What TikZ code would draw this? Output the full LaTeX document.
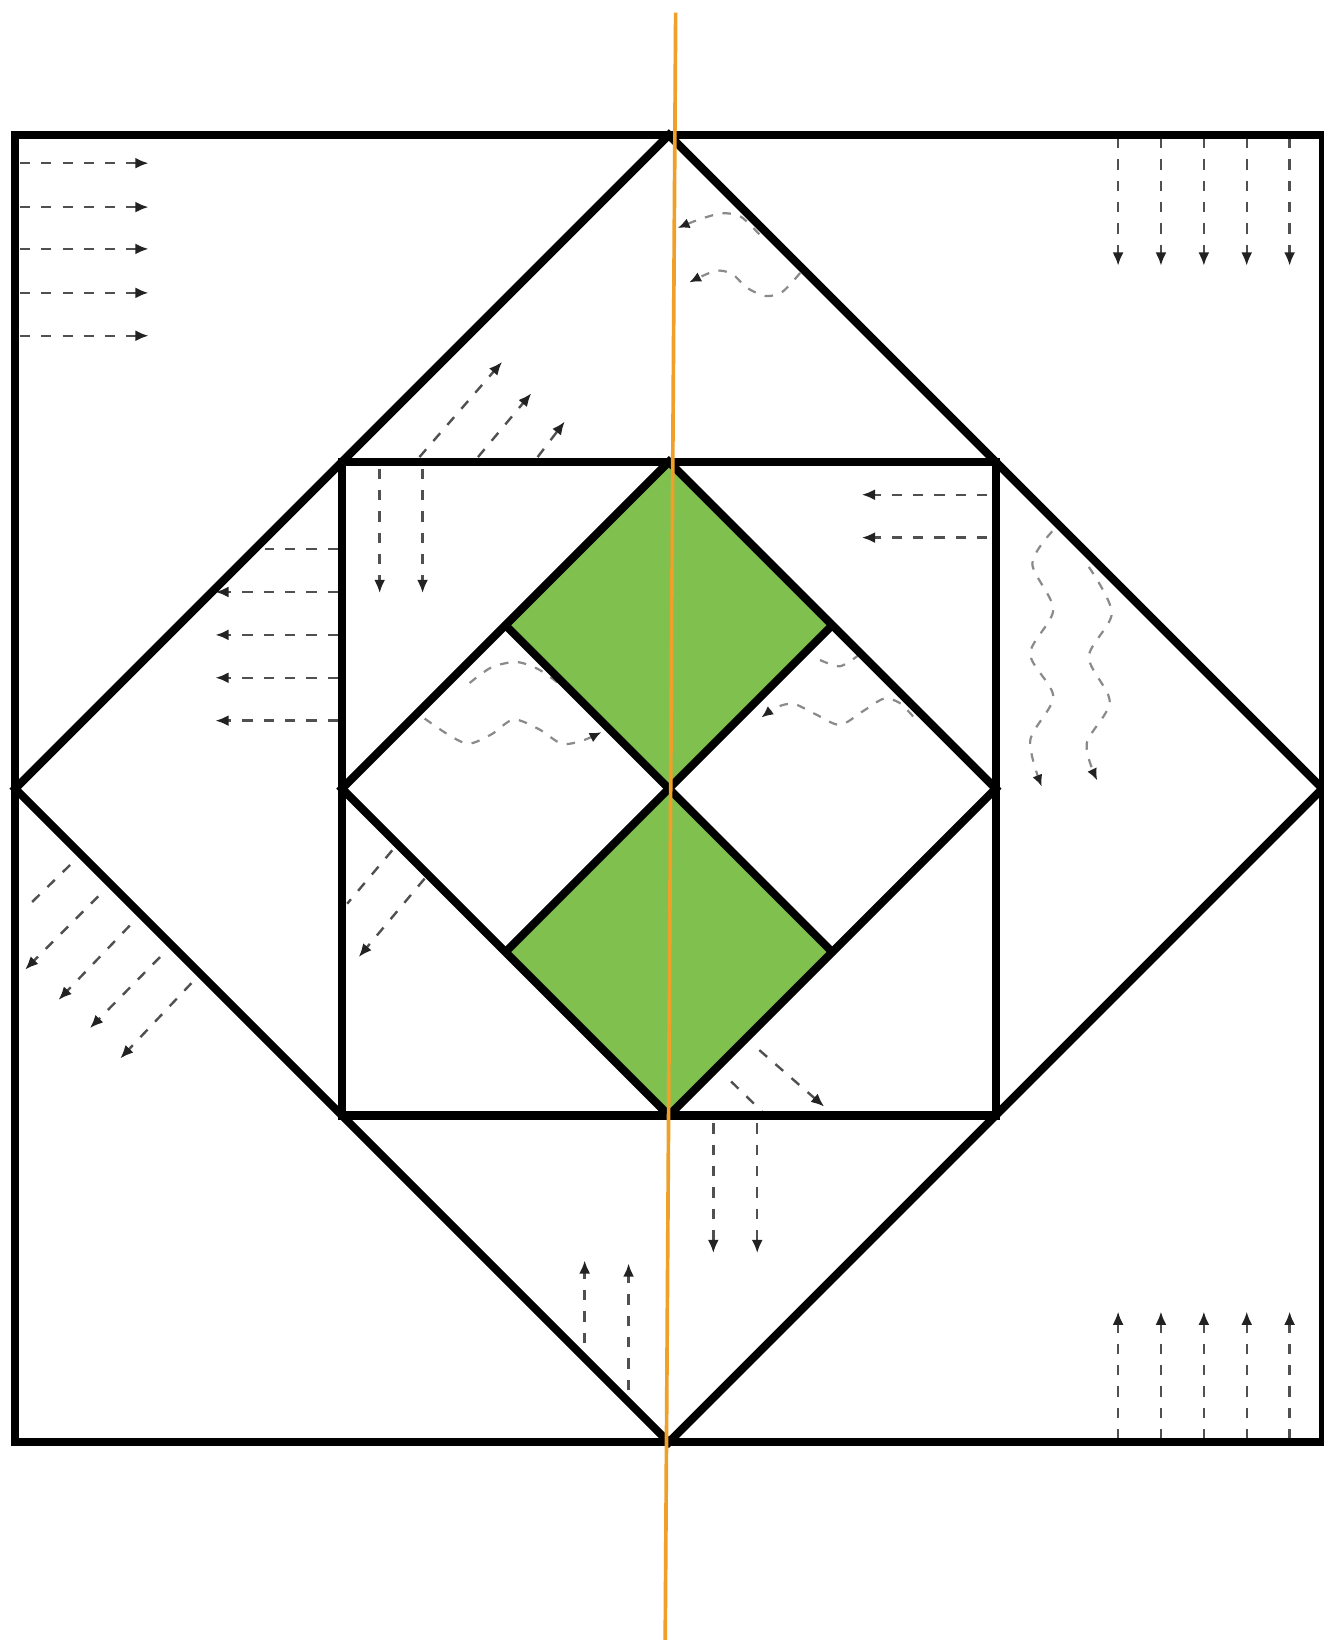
\documentclass[tikz,border=0pt]{standalone}
\definecolor{leaf}{HTML}{80C04E}
\definecolor{axisline}{HTML}{F0A028}
\definecolor{ink}{HTML}{000000}
\definecolor{flowgray}{HTML}{505050}
\definecolor{tipgray}{HTML}{222222}
\definecolor{wavegray}{HTML}{8A8A8A}
\usepackage{tikz}
\usetikzlibrary{arrows.meta, calc}
\tikzset{
  frame/.style={draw=ink, line width=2.2pt, line join=miter},
  flow/.style={-{Latex[length=3.6pt,width=3pt,color=tipgray]}, draw=flowgray, line width=0.65pt,
               dash pattern=on 2.8pt off 3pt},
  trail/.style={draw=flowgray, line width=0.65pt, dash pattern=on 2.8pt off 3pt},
  wave/.style={-{Latex[length=3.2pt,width=2.8pt,color=tipgray]}, draw=wavegray, line width=0.6pt,
               dash pattern=on 2.3pt off 2.6pt},
  foldline/.style={draw=axisline, line width=1pt},
}

\begin{document}
\begin{tikzpicture}[x=0.1mm,y=-0.1mm]
\useasboundingbox (0,0) rectangle (1265,1568);
\fill[white] (0,0) rectangle (1265,1568);
\coordinate (c) at (639.5,754);
\coordinate (o-tl) at (14.5,129);   \coordinate (o-br) at (1264.5,1379);
\coordinate (dT) at (639.5,129);    \coordinate (dR) at (1264.5,754);
\coordinate (dB) at (639.5,1379);   \coordinate (dL) at (14.5,754);
\coordinate (i-tl) at (327,441.5);  \coordinate (i-br) at (952,1066.5);
\coordinate (iT) at (639.5,441.5);  \coordinate (iR) at (952,754);
\coordinate (iB) at (639.5,1066.5); \coordinate (iL) at (327,754);
\coordinate (mUL) at ($(iT)!0.5!(iL)$); \coordinate (mUR) at ($(iT)!0.5!(iR)$);
\coordinate (mLL) at ($(iB)!0.5!(iL)$); \coordinate (mLR) at ($(iB)!0.5!(iR)$);
\coordinate (ax-top) at (646,12);   \coordinate (ax-bot) at (636,1568);

\fill[leaf] (iT) -- (mUR) -- (c) -- (mUL) -- cycle;
\fill[leaf] (c) -- (mLR) -- (iB) -- (mLL) -- cycle;

\foreach \y in {156,198,238,280,321} \draw[flow] (19,\y) -- (142,\y);
\foreach \x in {1069,1110,1151,1192,1233} {
  \draw[flow] (\x,132) -- (\x,254);
  \draw[flow] (\x,1376) -- (\x,1254);
}
\draw[trail] (323,525) -- (253,525);
\foreach \y in {566,607,648,689} \draw[flow] (323,\y) -- (206,\y);
\foreach \x in {363,404} \draw[flow] (\x,448) -- (\x,567);
\foreach \y in {473,514} \draw[flow] (944,\y) -- (824,\y);
\foreach \x in {682,724} \draw[flow] (\x,1074) -- (\x,1198);
\draw[flow] (559,1284) -- (559,1205);
\draw[flow] (601,1329) -- (601,1208);
\draw[flow] (401,437) -- (480,346);
\draw[flow] (457,437) -- (508,376);
\draw[flow] (514,437) -- (540,403);
\draw[trail] (67,827) -- (29,864);
\foreach \sx/\sy/\ex/\ey in {94/857/24/927,124/885/56/956,153/915/86/983,183/940/115/1012}
  \draw[flow] (\sx,\sy) -- (\ex,\ey);
\draw[trail] (375,813) -- (332,864);
\draw[flow] (406,840) -- (343,915);
\draw[flow] (726,1004) -- (788,1058);
\draw[trail] (699,1034) -- (732,1066);

\draw[wave] plot[smooth] coordinates {(726,224) (708,207) (690,204) (668,210) (648,218)};
\draw[wave] plot[smooth] coordinates {(765,261) (748,279) (732,283) (714,275) (700,262) (684,259) (659,270)};
\draw[wave,-] plot[smooth] coordinates {(449,653) (470,638) (494,633) (515,640) (535,654)};
\draw[wave] plot[smooth] coordinates {(406,687) (428,702) (448,711) (470,702) (491,688) (515,697) (537,711) (557,708) (575,700)};
\draw[wave,-] plot[smooth] coordinates {(784,631) (803,637) (820,627)};
\draw[wave] plot[smooth] coordinates {(873,685) (860,672) (845,668) (825,680) (803,693) (780,683) (759,673) (743,676) (728,686)};
\draw[wave] plot[smooth] coordinates {(1006,508) (987,539) (1007,583) (985,625) (1007,666) (985,708) (996,752)};
\draw[wave] plot[smooth] coordinates {(1041,542) (1063,586) (1041,628) (1061,671) (1039,711) (1049,746)};

\draw[frame] (o-tl) rectangle (o-br);
\draw[frame] (dT) -- (dR) -- (dB) -- (dL) -- cycle;
\draw[frame] (i-tl) rectangle (i-br);
\draw[frame] (iT) -- (iR) -- (iB) -- (iL) -- cycle;
\draw[frame] (mUL) -- (mLR);
\draw[frame] (mUR) -- (mLL);

\draw[foldline] (ax-top) -- (ax-bot);
\end{tikzpicture}
\end{document}
